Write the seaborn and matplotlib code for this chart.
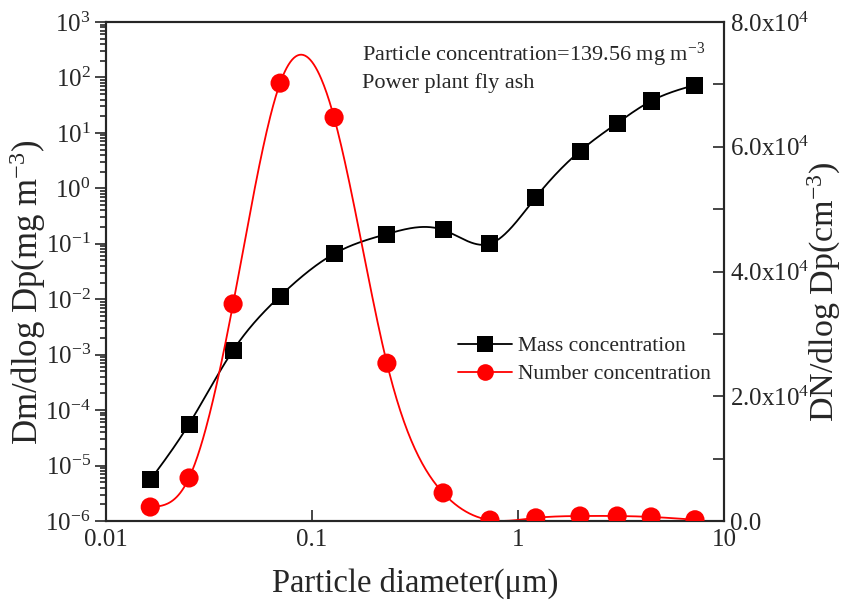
import numpy as np
import pandas as pd
import matplotlib
matplotlib.use("Agg")
import matplotlib.pyplot as plt
import seaborn as sns
from matplotlib.lines import Line2D
from matplotlib.ticker import FixedLocator, FuncFormatter, LogLocator, NullLocator

# data
diameter = [0.0164, 0.0253, 0.0414, 0.070, 0.128, 0.231, 0.433, 0.731, 1.22, 2.0, 3.03, 4.43, 7.23]
mass_conc = [5.5e-6, 5.6e-5, 1.2e-3, 0.0114, 0.066, 0.15, 0.178, 0.10, 0.69, 4.7, 15.0, 37.6, 73.0]
number_conc = [2240, 6900, 34800, 70200, 64700, 25300, 4500, 150, 500, 800, 800, 650, 200]

label_mass = "Mass concentration"
label_number = "Number concentration"
note_lines = ["Particle concentration=139.56 mg m$^{-3}$", "Power plant fly ash"]


# natural cubic spline (no scipy here)
def natural_spline(x, y, xn):
    x = np.asarray(x, float)
    y = np.asarray(y, float)
    n = len(x)
    h = np.diff(x)
    A = np.zeros((n, n))
    r = np.zeros(n)
    A[0, 0] = 1
    A[-1, -1] = 1
    for i in range(1, n - 1):
        A[i, i - 1] = h[i - 1]
        A[i, i] = 2 * (h[i - 1] + h[i])
        A[i, i + 1] = h[i]
        r[i] = 6 * ((y[i + 1] - y[i]) / h[i] - (y[i] - y[i - 1]) / h[i - 1])
    M = np.linalg.solve(A, r)
    idx = np.clip(np.searchsorted(x, xn) - 1, 0, n - 2)
    x0, x1 = x[idx], x[idx + 1]
    hh = x1 - x0
    return (M[idx] * (x1 - xn) ** 3 / (6 * hh) + M[idx + 1] * (xn - x0) ** 3 / (6 * hh)
            + (y[idx] / hh - M[idx] * hh / 6) * (x1 - xn)
            + (y[idx + 1] / hh - M[idx + 1] * hh / 6) * (xn - x0))


lx = np.log10(diameter)
fine = np.linspace(lx[0], lx[-1], 600)
df_pts = pd.DataFrame({"d": diameter, "mass": mass_conc, "num": number_conc})
df_fit = pd.DataFrame({
    "d": 10 ** fine,
    "mass": 10 ** natural_spline(lx, np.log10(mass_conc), fine),
    "num": natural_spline(lx, number_conc, fine),
})

sns.set_style("ticks")
plt.rcParams["font.family"] = ["Liberation Serif", "DejaVu Serif"]
plt.rcParams["mathtext.fontset"] = "custom"
plt.rcParams["mathtext.rm"] = "Liberation Serif"
plt.rcParams["mathtext.it"] = "Liberation Serif:italic"
plt.rcParams["mathtext.bf"] = "Liberation Serif:bold"

fig = plt.figure(figsize=(8.42, 6.05), dpi=100)
ax = fig.add_axes([106 / 842, 1 - 521 / 605, 618 / 842, 499 / 605])
ax2 = ax.twinx()

# mass concentration, left log axis
sns.lineplot(data=df_fit, x="d", y="mass", ax=ax, color="black", lw=1.3)
sns.scatterplot(data=df_pts, x="d", y="mass", ax=ax, color="black", marker="s",
                s=150, edgecolor="none", zorder=5)

# number concentration, right linear axis
sns.lineplot(data=df_fit, x="d", y="num", ax=ax2, color="red", lw=1.3)
sns.scatterplot(data=df_pts, x="d", y="num", ax=ax2, color="red", marker="o",
                s=190, edgecolor="none", zorder=5)

ax.set_xscale("log")
ax.set_yscale("log")
ax.set_xlim(0.01, 10)
ax.set_ylim(1e-6, 1e3)
ax2.set_ylim(0, 8e4)

ax.xaxis.set_major_locator(FixedLocator([0.01, 0.1, 1, 10]))
ax.xaxis.set_major_formatter(FuncFormatter(lambda v, p: f"{v:g}"))
ax.xaxis.set_minor_locator(NullLocator())
ax.yaxis.set_major_locator(LogLocator(base=10, numticks=20))
ax.yaxis.set_minor_locator(LogLocator(base=10, subs=np.arange(2, 10), numticks=20))

ax2.yaxis.set_major_locator(FixedLocator([0, 2e4, 4e4, 6e4, 8e4]))
ax2.yaxis.set_minor_locator(FixedLocator([1e4, 3e4, 5e4, 7e4]))


def sci_fmt(v, p):
    if v == 0:
        return "0.0"
    e = int(np.floor(np.log10(v)))
    return f"{v / 10 ** e:.1f}x10$^{{{e}}}$"


ax2.yaxis.set_major_formatter(FuncFormatter(sci_fmt))

for a in (ax, ax2):
    a.tick_params(which="both", width=1.2, labelsize=18, top=False)
    a.tick_params(which="major", length=8)
    a.tick_params(which="minor", length=4)
    for sp in a.spines.values():
        sp.set_linewidth(1.5)
ax.tick_params(axis="y", which="both", direction="out", pad=3)
ax.tick_params(axis="x", which="both", direction="in", pad=6)
ax2.tick_params(axis="y", which="both", direction="in", length=8, pad=4)

ax.set_xlabel("Particle diameter(\u03bcm)", fontsize=23.5, labelpad=12)
ax.set_ylabel("Dm/dlog Dp(mg m$^{-3}$)", fontsize=25, rotation=90,
              rotation_mode="default", ha="center", va="center")
ax.yaxis.set_label_coords(-0.126, 0.459)
ax2.set_ylabel("DN/dlog Dp(cm$^{-3}$)", fontsize=24.5, rotation=90,
               rotation_mode="default", ha="center", va="center")
ax2.yaxis.set_label_coords(1.162, 0.459)

ax.text(0.415, 0.934, note_lines[0], transform=ax.transAxes, fontsize=16, va="center")
ax.text(0.415, 0.878, note_lines[1], transform=ax.transAxes, fontsize=16, va="center")

handles = [
    Line2D([], [], color="black", lw=1.3, marker="s", markersize=11, markeredgewidth=0),
    Line2D([], [], color="red", lw=1.3, marker="o", markersize=12, markeredgewidth=0),
]
ax.legend(handles, [label_mass, label_number], loc="upper left",
          bbox_to_anchor=(0.556, 0.388), frameon=False, fontsize=15.5,
          handlelength=2.5, handletextpad=0.3, labelspacing=0.38, borderaxespad=0)

fig.savefig("out.png", dpi=100)
